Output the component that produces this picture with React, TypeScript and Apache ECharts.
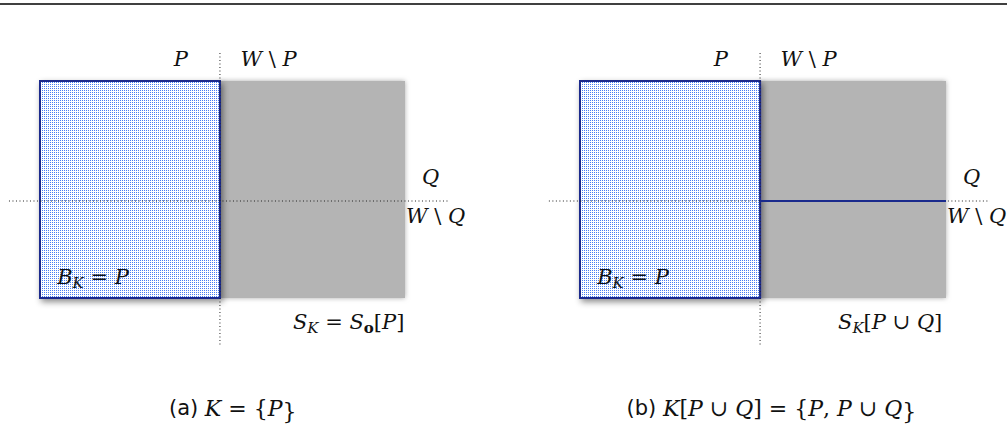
import React, { useEffect, useRef } from 'react';
import * as echarts from 'echarts';

// ---- data (fractions of the universe W per panel) ----
const panelIds = ['a', 'b'];
const captionTexts = ['(a) K = {P}', '(b) K[P ∪ Q] = {P, P ∪ Q}'];
const pShare = [0.493, 0.492];      // where P ends inside W (horizontal)
const qShare = [0.447, 0.447];      // where Q ends inside W (vertical, from bottom)
const qBoundaryMarked = [false, true];
const bottomLabels = ['S_K = S_o[P]', 'S_K[P ∪ Q]'];

// ---- layout ----
const gridLeft = [40, 580];
const gridWidth = [365, 366];
const gridTop = 81;
const gridHeight = 217;
const captionX = [0.528, 0.523];
const bottomLabelX = [0.693, 0.705];

const MATH = '"DejaVu Serif", "Liberation Serif", serif';
const SANS = '"DejaVu Sans", "Open Sans", sans-serif';
const FS = 21;
const CFS = 22;
const INK = '#111';
const BLUE_EDGE = '#1a2a8c';

const rich: any = {
  i: { fontFamily: MATH, fontStyle: 'italic', fontSize: FS, color: INK, lineHeight: 26, verticalAlign: 'top' },
  r: { fontFamily: MATH, fontSize: FS, color: INK, lineHeight: 26, verticalAlign: 'top' },
  s: { fontFamily: MATH, fontStyle: 'italic', fontSize: 15, color: INK, lineHeight: 15, verticalAlign: 'top', padding: [9, 0, 0, 0] },
  sb: { fontFamily: MATH, fontWeight: 'bold', fontSize: 15, color: INK, lineHeight: 15, verticalAlign: 'top', padding: [9, 0, 0, 0] },
  ci: { fontFamily: MATH, fontStyle: 'italic', fontSize: CFS, color: INK, lineHeight: 28, verticalAlign: 'top' },
  cr: { fontFamily: MATH, fontSize: CFS, color: INK, lineHeight: 28, verticalAlign: 'top' },
  ct: { fontFamily: SANS, fontSize: CFS - 1, color: INK, lineHeight: 28, verticalAlign: 'top' },
};

function bottomRich(i: number) {
  return i === 0
    ? '{i|S}{s|K}{r| = }{i|S}{sb|o}{r|[}{i|P}{r|]}'
    : '{i|S}{s|K}{r|[}{i|P}{r| ∪ }{i|Q}{r|]}';
}
function captionRich(i: number) {
  return i === 0
    ? '{ct|(a) }{ci|K}{cr| = {}{ci|P}}'
    : '{ct|(b) }{ci|K}{cr|[}{ci|P}{cr| ∪ }{ci|Q}{cr|] = {}{ci|P}{cr|, }{ci|P}{cr| ∪ }{ci|Q}}';
}

function makePattern(): any {
  const cv = document.createElement('canvas');
  cv.width = 2;
  cv.height = 2;
  const ctx = cv.getContext('2d')!;
  ctx.fillStyle = '#ffffff';
  ctx.fillRect(0, 0, 2, 2);
  ctx.fillStyle = 'rgb(72,126,242)';
  ctx.fillRect(0, 0, 1, 1);
  return { image: cv, repeat: 'repeat' };
}

export default function App() {
  const ref = useRef<HTMLDivElement>(null);
  useEffect(() => {
    document.body.style.margin = '0';
    const chart = echarts.init(ref.current!, undefined, { renderer: 'svg' });
    const pattern = makePattern();

    const renderPanel = (k: number) => (params: any, api: any) => {
      const P = pShare[k];
      const Q = qShare[k];
      const c = (x: number, y: number) => api.coord([x, y]);
      const [x0, yTop] = c(0, 1);
      const [xs, yBot] = c(P, 0);
      const [x1] = c(1, 0);
      const [, yq] = c(0, Q);
      const dotted = { stroke: '#222', lineWidth: 1, lineDash: [1, 2.5] };
      const children: any[] = [
        {
          type: 'rect',
          shape: { x: xs, y: yTop, width: x1 - xs, height: yBot - yTop },
          style: { fill: '#b4b4b4', shadowBlur: 5, shadowColor: 'rgba(160,160,160,0.9)' },
        },
        {
          type: 'rect',
          shape: { x: x0, y: yTop, width: xs - x0, height: yBot - yTop },
          style: {
            fill: pattern,
            stroke: BLUE_EDGE,
            lineWidth: 2,
            shadowBlur: 6,
            shadowOffsetX: 2,
            shadowOffsetY: 3,
            shadowColor: 'rgba(0,0,0,0.45)',
          },
        },
        {
          type: 'line',
          shape: { x1: xs, y1: c(P, 1.129)[1], x2: xs, y2: c(P, -0.217)[1] },
          style: dotted,
        },
        {
          type: 'line',
          shape: { x1: c(-0.085, Q)[0], y1: yq, x2: c(1.12, Q)[0], y2: yq },
          style: dotted,
        },
      ];
      if (qBoundaryMarked[k]) {
        children.push({
          type: 'line',
          shape: { x1: xs, y1: yq, x2: x1, y2: yq },
          style: { stroke: BLUE_EDGE, lineWidth: 2 },
        });
      }
      const txt = (x: number, y: number, text: string, align: string, fs = FS) => {
        const [px, py] = c(x, y);
        children.push({
          type: 'text',
          x: px,
          y: py,
          style: {
            text,
            rich,
            align,
            verticalAlign: 'middle',
            fill: INK,
            fontFamily: MATH,
            fontSize: fs,
            lineHeight: 26,
          },
        });
      };
      txt(P - 0.107, 1.088, '{i|P}', 'center');
      txt(P + 0.056, 1.088, '{i|W}{r| \\ }{i|P}', 'left');
      txt(1.07, Q + 0.101, '{i|Q}', 'center');
      txt(1.003, Q - 0.08, '{i|W}{r| \\ }{i|Q}', 'left');
      txt(0.047, 0.083, '{i|B}{s|K}{r| = }{i|P}', 'left');
      txt(bottomLabelX[k], -0.124, bottomRich(k), 'left');
      txt(captionX[k], -0.525, captionRich(k), 'center', CFS);
      return { type: 'group', children };
    };

    chart.setOption({
      animation: false,
      grid: panelIds.map((_, k) => ({
        left: gridLeft[k],
        top: gridTop,
        width: gridWidth[k],
        height: gridHeight,
        show: false,
      })),
      xAxis: panelIds.map((_, k) => ({ type: 'value', gridIndex: k, min: 0, max: 1, show: false })),
      yAxis: panelIds.map((_, k) => ({ type: 'value', gridIndex: k, min: 0, max: 1, show: false })),
      graphic: [
        {
          type: 'line',
          shape: { x1: 0, y1: 4, x2: 1007, y2: 4 },
          style: { stroke: '#000', lineWidth: 1.6 },
        },
      ],
      series: panelIds.map((id, k) => ({
        type: 'custom',
        name: captionTexts[k] + ' ' + bottomLabels[k],
        xAxisIndex: k,
        yAxisIndex: k,
        clip: false,
        silent: true,
        data: [[0, 0]],
        renderItem: renderPanel(k),
      })),
    });
    return () => chart.dispose();
  }, []);
  return <div ref={ref} style={{ position: 'absolute', left: 0, top: 0, width: 1007, height: 430 }} />;
}
